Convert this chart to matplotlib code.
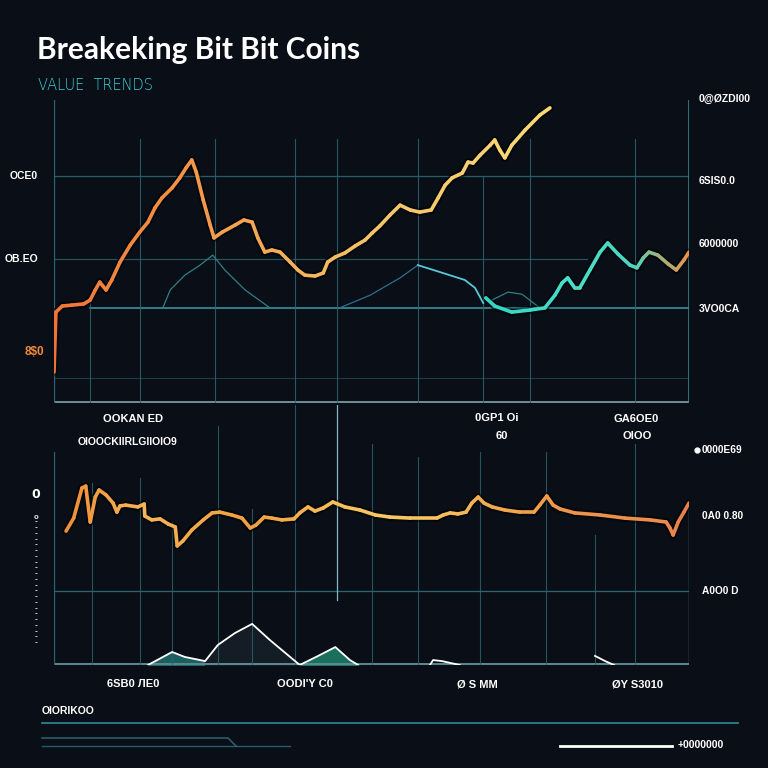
import numpy as np
import matplotlib
matplotlib.use("Agg")
import matplotlib.pyplot as plt
from matplotlib.collections import LineCollection
from matplotlib.colors import LinearSegmentedColormap
from matplotlib.lines import Line2D

# ---------------- data ----------------
top_orange_x = [0, 0.3, 1.3, 2.8, 4.7, 5.7, 6.5, 7.2, 8.2, 9.1, 10.4, 12.0, 13.5, 14.8, 15.9, 17.0,
                18.6, 19.8, 20.8, 21.7, 22.4, 23.5, 24.6, 25.2, 26.5, 28.5, 29.9, 31.2, 32.1, 33.2,
                34.3, 35.6, 37.2, 38.4, 39.5, 41.1, 42.4, 43.1, 44.3, 45.8, 47.4, 49.0, 50.1, 51.3,
                52.9, 54.5, 56.1, 57.6, 59.4, 60.5, 61.6, 62.7, 64.3, 65.2, 66.0, 67.1, 68.7, 69.4,
                70.2, 71.0, 72.1, 74.2, 76.5, 78.1]
top_orange_y = [10.2, 30.0, 32.0, 32.3, 32.7, 34.0, 37.3, 39.9, 37.3, 40.6, 46.5, 52.1, 56.4, 59.7,
                64.4, 67.7, 71.0, 74.3, 77.6, 80.2, 76.2, 67.0, 58.7, 54.5, 56.4, 58.7, 60.4, 59.7,
                54.5, 49.8, 50.5, 49.8, 46.5, 43.9, 42.2, 41.9, 42.9, 46.5, 48.2, 49.5, 51.8, 53.8,
                56.1, 58.4, 62.0, 65.3, 63.7, 63.0, 63.7, 67.7, 71.9, 74.3, 75.9, 79.5, 79.2, 81.8,
                85.1, 86.8, 83.5, 80.9, 85.1, 90.1, 95.0, 97.4]

top_teal_x = [68.0, 69.4, 72.1, 75.0, 77.3, 78.9, 80.0, 80.9, 82.0, 82.8, 84.4, 86.0, 87.2, 88.8,
              90.7, 91.8, 92.8, 93.7, 95.1, 96.7, 98.0, 99.2, 100.0]
top_teal_y = [34.7, 32.0, 30.0, 30.7, 31.4, 35.6, 39.6, 41.3, 38.0, 38.0, 43.9, 49.8, 52.8, 49.2,
              45.5, 44.6, 47.9, 49.8, 48.8, 45.9, 43.9, 47.2, 49.8]

thin_a_x = [17.2, 18.3, 20.6, 23.0, 25.0, 26.9, 30.1, 34.0]
thin_a_y = [31.7, 37.3, 42.2, 45.5, 48.8, 43.9, 37.3, 31.4]
thin_b_x = [45.0, 49.8, 54.5, 57.3]
thin_b_y = [31.4, 35.6, 41.3, 45.5]
thin_c_x = [57.3, 60.8, 64.7, 66.3, 67.6]
thin_c_y = [45.5, 43.2, 40.6, 38.0, 33.0]
thin_d_x = [69.0, 71.5, 73.7, 76.5]
thin_d_y = [34.0, 36.6, 35.9, 31.4]

bot_orange_x = [1.9, 3.1, 4.4, 5.0, 5.7, 6.5, 7.1, 8.2, 9.3, 9.9, 10.4, 11.3, 13.2, 14.2, 14.3, 15.4,
                16.7, 18.0, 19.1, 19.4, 20.3, 21.7, 23.5, 24.9, 26.1, 28.0, 29.6, 30.9, 31.8, 33.1,
                34.3, 35.9, 37.8, 38.7, 40.0, 41.1, 42.4, 43.9, 45.8, 48.2, 50.6, 52.9, 56.1, 60.3,
                61.3, 62.4, 63.6, 64.9, 65.8, 66.8, 67.7, 69.0, 71.0, 73.4, 75.6, 76.5, 77.6, 78.6,
                79.7, 82.0, 86.0, 89.9, 93.9, 96.4, 97.0, 97.5, 98.3, 99.2, 100.0]
bot_orange_y = [51.5, 56.5, 68.1, 68.8, 55.0, 64.6, 67.3, 65.4, 62.3, 58.8, 61.2, 61.5, 60.8, 61.9,
                57.3, 55.8, 56.2, 54.2, 53.1, 45.8, 47.7, 51.9, 55.8, 58.5, 58.8, 57.7, 56.5, 52.7,
                53.8, 56.9, 56.5, 55.8, 56.2, 58.5, 60.8, 59.2, 60.4, 62.7, 60.8, 59.6, 57.7, 56.9,
                56.5, 56.5, 57.7, 58.5, 58.1, 58.8, 62.3, 64.6, 62.3, 60.8, 59.6, 58.8, 58.8, 61.5,
                65.0, 61.5, 60.0, 58.5, 57.7, 56.5, 55.8, 55.0, 52.7, 50.0, 55.0, 58.8, 62.3]

area1_x = [14.8, 18.6, 20.6, 23.8, 25.8, 28.5, 31.2, 34.0, 38.7]
area1_y = [0, 5.0, 3.1, 1.5, 7.7, 12.3, 15.8, 9.6, 0]
area2_x = [38.7, 41.6, 44.3, 46.6, 47.9]
area2_y = [0, 3.5, 6.9, 1.9, 0]
bump1_x = [59.2, 59.7, 61.1, 63.9]
bump1_y = [0, 1.9, 1.5, 0]
bump2_x = [85.2, 86.8, 88.2]
bump2_y = [3.5, 1.5, 0]

top_hgrid = [74.9, 47.5, 31.4, 8.3]
top_vgrid = [5.7, 13.5, 25.4, 38.0, 44.6, 57.3, 67.6, 75.0, 91.5]
bot_vgrid = [6.0, 13.5, 18.6, 25.8, 31.2, 38.0, 50.1, 57.3, 67.1, 77.5, 85.2, 91.5]
bot_hgrid = [28.5]

top_left_labels = ["OCE0", "OB.EO"]
top_left_pos = [74.9, 47.5]
top_right_labels = ["0@ØZDI00", "6SIS0.0", "6000000", "3VO0CA"]
top_right_pos = [100.3, 73.3, 52.5, 31.0]
bot_right_labels = ["0000E69", "0A0 0.80", "A0O0 D"]
bot_right_pos = [82.7, 57.3, 28.5]
bottom_xlabels = ["6SB0 ЛE0", "OODI'Y C0", "Ø S MM", "ØY S3010"]
bottom_xlabel_px = [133, 305, 477, 638]

BG = "#0a0e16"
GRID = "#2b6670"
GRID_DIM = "#1d3e46"
LABEL_FONT = "Liberation Sans"

fig = plt.figure(figsize=(7.68, 7.68), dpi=100)
fig.patch.set_facecolor(BG)

def fx(px):
    return px / 768.0

def fy(py):
    return 1 - py / 768.0

def grad_line(ax, x, y, colors, lw=2.4):
    x = np.asarray(x, float); y = np.asarray(y, float)
    pts = np.column_stack([x, y]).reshape(-1, 1, 2)
    segs = np.concatenate([pts[:-1], pts[1:]], axis=1)
    cmap = LinearSegmentedColormap.from_list("g", colors)
    t = np.linspace(0, 1, len(segs))
    shadow = LineCollection(segs, colors="#000000", linewidths=lw * 2.2, alpha=0.35,
                            capstyle="round", joinstyle="round")
    ax.add_collection(shadow)
    lc = LineCollection(segs, colors=cmap(t), linewidths=lw, capstyle="round", joinstyle="round")
    ax.add_collection(lc)

# ---------------- top panel ----------------
ax1 = fig.add_axes([fx(54), fy(403), fx(635), 303 / 768])
ax1.set_facecolor("none")
ax1.set_xlim(0, 100)
ax1.set_ylim(0, 100)
for s in ax1.spines.values():
    s.set_visible(False)
ax1.set_xticks([]); ax1.set_yticks([])

ax1.axhline(top_hgrid[0], color=GRID, lw=0.9, alpha=0.9)
ax1.axhline(top_hgrid[1], xmin=0, xmax=0.84, color=GRID, lw=0.9, alpha=0.8)
ax1.axhline(top_hgrid[2], xmin=0.057, xmax=1, color="#3a9ea6", lw=1.1)
ax1.axhline(top_hgrid[3], color=GRID_DIM, lw=0.8)
ax1.axhline(0.3, color="#6f8f99", lw=1.4)
ax1.axvline(0, color=GRID, lw=0.9)
ax1.axvline(100, color="#3a8a94", lw=1.1)
for i, xv in enumerate(top_vgrid):
    top = 0.87 if i not in (0, 6) else (0.34 if i == 0 else 0.75)
    ax1.axvline(xv, ymin=0, ymax=top, color=GRID, lw=0.8, alpha=0.85)

ax1.plot(thin_a_x, thin_a_y, color="#2f7f85", lw=0.9)
ax1.plot(thin_b_x, thin_b_y, color="#2b6f90", lw=0.9)
ax1.plot(thin_c_x, thin_c_y, color="#56c8d8", lw=1.3)
ax1.plot(thin_d_x, thin_d_y, color="#2f7f85", lw=0.9)

grad_line(ax1, top_orange_x, top_orange_y, ["#f0743a", "#f39a4a", "#f5c36a", "#fbd977"], lw=2.6)
grad_line(ax1, top_teal_x, top_teal_y, ["#36d6c4", "#47e0cc", "#4ad8c0", "#e8944a"], lw=2.6)

for lab, yv in zip(top_left_labels, top_left_pos):
    ax1.text(-2.5, yv, lab, color="white", fontsize=7.5, fontweight="bold", family=LABEL_FONT,
             ha="right", va="center", clip_on=False)
ax1.text(-1.5, 16.8, "8$0", color="#f08a3c", fontsize=8.5, fontweight="bold", family=LABEL_FONT,
         ha="right", va="center", clip_on=False)
for lab, yv in zip(top_right_labels, top_right_pos):
    ax1.text(101.5, yv, lab, color="white", fontsize=7.5, fontweight="bold", family=LABEL_FONT,
             ha="left", va="center", clip_on=False)

# ---------------- bottom panel ----------------
ax2 = fig.add_axes([fx(54), fy(665), fx(635), 260 / 768])
ax2.set_facecolor("none")
ax2.set_xlim(0, 100)
ax2.set_ylim(0, 100)
for s in ax2.spines.values():
    s.set_visible(False)
ax2.set_xticks([]); ax2.set_yticks([])

ax2.axhline(0.4, color="#5f8a92", lw=1.4)
ax2.axhline(bot_hgrid[0], color=GRID, lw=0.9)
ax2.axvline(0, ymin=0, ymax=0.82, color=GRID, lw=0.9)
ax2.axvline(100, ymin=0, ymax=0.62, color="#3a8a94", lw=1.0)
tops = [0.70, 0.72, 0.55, 0.92, 0.60, 1.0, 0.85, 0.80, 0.82, 0.82, 0.50, 0.85]
for xv, tp in zip(bot_vgrid, tops):
    ax2.axvline(xv, ymin=0, ymax=tp, color=GRID, lw=0.8, alpha=0.8)
ax2.axvline(44.6, ymin=0.25, ymax=1.0, color="#7fb8c0", lw=0.9)

ax2.fill_between(area1_x, area1_y, color="#1f6f6c", alpha=0.85)
ax2.fill_between(area1_x[3:], area1_y[3:], color="#141c26")
ax2.plot(area1_x, area1_y, color="white", lw=1.3)
ax2.fill_between(area2_x, area2_y, color="#1d7a64", alpha=0.9)
ax2.plot(area2_x, area2_y, color="white", lw=1.3)
ax2.plot(bump1_x, bump1_y, color="white", lw=1.3)
ax2.plot(bump2_x, bump2_y, color="white", lw=1.3)

grad_line(ax2, bot_orange_x, bot_orange_y,
          ["#f0903a", "#f5b55a", "#f0a040", "#f7c865", "#f0a04a", "#e9804e"], lw=2.6)

for lab, yv in zip(bot_right_labels, bot_right_pos):
    ax2.text(102.0, yv, lab, color="white", fontsize=7.3, fontweight="bold", family=LABEL_FONT,
             ha="left", va="center", clip_on=False)
ax2.plot([101.2], [82.7], marker="o", ms=3.5, color="white", clip_on=False)

# left vertical tiny tick column
fig.text(fx(36), fy(494), "0", color="white", fontsize=9, fontweight="bold", ha="center", va="center")
fig.text(fx(36), fy(580), "o\n" + "\n".join(["-"] * 22), color="#cfd8dc", fontsize=5,
         ha="center", va="center", linespacing=0.95, fontweight="bold")

# ---------------- text ----------------
fig.text(fx(37), fy(50), "Breakeking Bit Bit Coins", color="white", fontsize=21.5,
         fontweight="bold", family="Lato", ha="left", va="center")
fig.text(fx(38), fy(86), "VALUE  TRENDS", color="#3fd0d8", fontsize=10.5,
         family="DejaVu Sans", fontweight="light", ha="left", va="center")

def lbl(px, py, s, fs=8):
    fig.text(fx(px), fy(py), s, color="white", fontsize=fs, fontweight="bold",
             family=LABEL_FONT, ha="center", va="center")

lbl(133, 419, "OOKAN ED")
lbl(128, 442, "OIOOCKIIRLGIIOIO9", 7.5)
lbl(497, 418, "0GP1 Oi")
lbl(502, 436, "60")
lbl(636, 419, "GA6OE0")
lbl(637, 436, "OIOO")
for lab, px in zip(bottom_xlabels, bottom_xlabel_px):
    lbl(px, 684, lab)

# footer
fig.text(fx(42), fy(711), "OIORIKOO", color="white", fontsize=7.5, fontweight="bold",
         family=LABEL_FONT, ha="left", va="center")
fig.add_artist(Line2D([fx(42), fx(738)], [fy(723), fy(723)], color="#2e7f8a", lw=1.3))
fig.add_artist(Line2D([fx(42), fx(228), fx(236)], [fy(738), fy(738), fy(746)], color="#2a5d68", lw=1.2))
fig.add_artist(Line2D([fx(42), fx(290)], [fy(746), fy(746)], color="#2b7080", lw=1.0, alpha=0.8))
fig.add_artist(Line2D([fx(560), fx(672)], [fy(746), fy(746)], color="white", lw=2.0))
fig.text(fx(678), fy(745), "+0000000", color="white", fontsize=7.5, fontweight="bold",
         family=LABEL_FONT, ha="left", va="center")

fig.savefig("out.png", dpi=100, facecolor=BG)
